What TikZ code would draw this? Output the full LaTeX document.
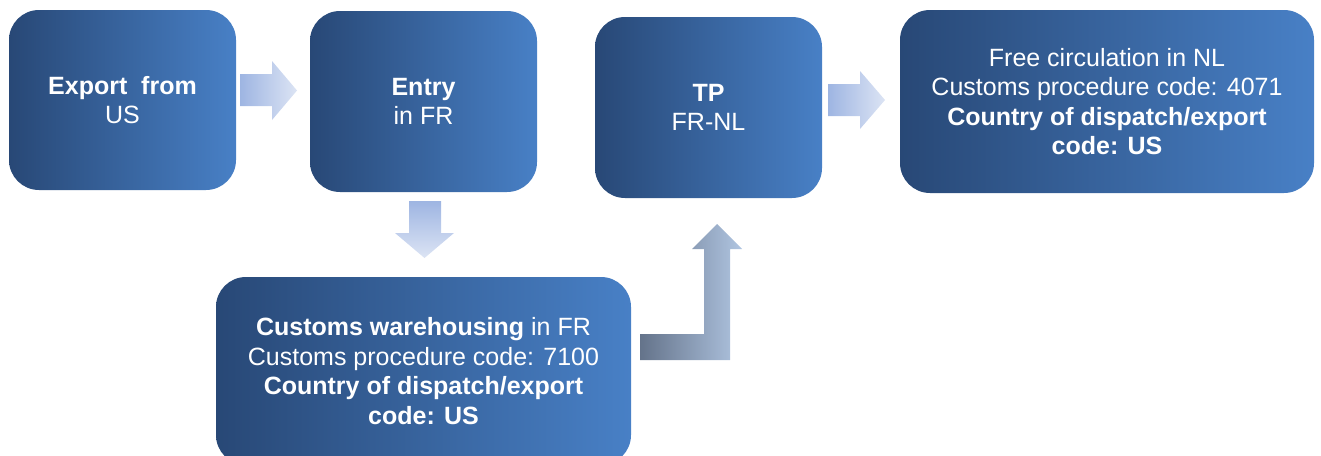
\documentclass[tikz,border=0pt]{standalone}
\usepackage{fontspec}
\setmainfont{Liberation Sans}
\definecolor{boxL}{RGB}{40,72,118}
\definecolor{boxR}{RGB}{72,128,198}
\definecolor{arrL}{RGB}{158,181,226}
\definecolor{arrR}{RGB}{220,228,244}
\definecolor{bentL}{RGB}{100,115,138}
\definecolor{bentR}{RGB}{176,197,225}
\tikzset{
  flowbox/.style={rectangle, rounded corners=30pt, left color=boxL, right color=boxR,
    draw=none, text=white, align=center, inner sep=0pt,
    font=\fontsize{25}{29.5}\selectfont},
  blockarrow/.style={left color=arrL, right color=arrR, draw=none},
  downarrow/.style={top color=arrL, bottom color=arrR, draw=none},
  bentarrow/.style={left color=bentL, right color=bentR, draw=none}
}
\begin{document}
\begin{tikzpicture}[x=1pt,y=-1pt]
\useasboundingbox (0,0) rectangle (1321,455);
\node[flowbox, minimum width=227pt, minimum height=180pt] (b1) at (122.5,100)
  {\textbf{Export~~from}\\US};
\node[flowbox, minimum width=227pt, minimum height=181pt] (b2) at (423.5,101.5)
  {\textbf{Entry}\\in FR};
\node[flowbox, minimum width=227pt, minimum height=181pt] (b3) at (708.5,107.5)
  {\textbf{TP}\\FR-NL};
\node[flowbox, minimum width=414pt, minimum height=183pt] (b4) at (1107,101.5)
  {Free circulation in NL\\Customs procedure code: 4071\\\textbf{Country of dispatch/export}\\\textbf{code: US}};
\node[flowbox, minimum width=415pt, minimum height=188pt] (b5) at (423.5,371)
  {\textbf{Customs warehousing} in FR\\Customs procedure code: 7100\\\textbf{Country of dispatch/export}\\\textbf{code: US}};
% arrow b1 -> b2
\shade[blockarrow] (240,74) -- (272,74) -- (272,61) -- (297,90.5) -- (272,120) -- (272,106) -- (240,106) -- cycle;
% arrow b2 -> b5
\shade[downarrow] (409,201) -- (441,201) -- (441,233) -- (454,233) -- (424.5,258) -- (395,233) -- (409,233) -- cycle;
% bent arrow b5 -> b3
\shade[bentarrow] (640,334) -- (704,334) -- (704,249) -- (692,249) -- (717,224) -- (742,249) -- (730,249) -- (730,360) -- (640,360) -- cycle;
% arrow b3 -> b4
\shade[blockarrow] (828,84) -- (860,84) -- (860,71) -- (885,100) -- (860,129) -- (860,116) -- (828,116) -- cycle;
\end{tikzpicture}
\end{document}
